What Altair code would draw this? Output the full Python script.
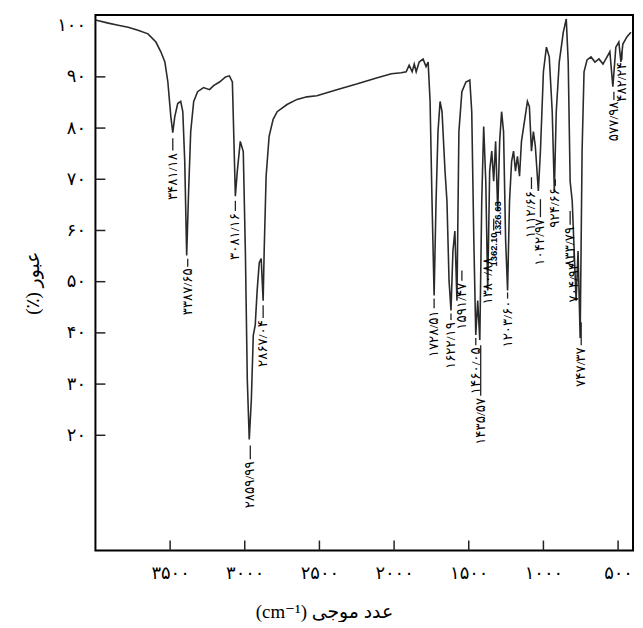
import altair as alt
import pandas as pd

# ---- spectrum (wavenumber cm-1, transmittance %) ----
wavenumber = [4000, 3914, 3848, 3781, 3715, 3648, 3595, 3562, 3535, 3515, 3495, 3482, 3469, 3449, 3429,
              3415, 3402, 3389, 3376, 3362, 3342, 3316, 3276, 3236, 3209, 3169, 3129, 3103, 3083, 3076,
              3063, 3050, 3030, 3010, 2996, 2983, 2970, 2956, 2943, 2930, 2917, 2903, 2890, 2877, 2870,
              2857, 2837, 2810, 2783, 2717, 2650, 2584, 2517, 2384, 2251, 2118, 2018, 1952, 1919, 1899,
              1879, 1865, 1852, 1832, 1806, 1786, 1772, 1759, 1746, 1732, 1719, 1706, 1692, 1679, 1659,
              1646, 1632, 1619, 1606, 1593, 1579, 1566, 1546, 1519, 1493, 1480, 1466, 1453, 1440, 1426,
              1413, 1400, 1386, 1373, 1360, 1346, 1333, 1320, 1306, 1293, 1280, 1267, 1253, 1240, 1227,
              1213, 1200, 1187, 1174, 1160, 1147, 1127, 1107, 1094, 1080, 1067, 1054, 1034, 1020, 1000,
              980, 961, 941, 927, 914, 894, 867, 847, 834, 821, 807, 794, 781, 768, 754,
              741, 728, 708, 681, 655, 628, 601, 574, 555, 535, 515, 495, 481, 468, 441, 414]
transmittance = [101.1, 100.5, 100.1, 99.7, 99.1, 98.4, 96.8, 94.9, 92.9, 89.0, 82.2, 79.1, 82.2, 84.8, 85.2,
                 83.2, 73.5, 55.1, 67.7, 79.3, 85.2, 87.1, 87.9, 87.5, 88.3, 89.0, 90.0, 90.2, 89.0, 81.3,
                 66.7, 71.6, 77.4, 75.4, 56.0, 30.8, 19.2, 26.9, 39.5, 41.5, 48.3, 53.7, 54.5, 46.3, 56.0,
                 70.6, 78.4, 81.7, 83.2, 84.6, 85.6, 86.1, 86.3, 87.5, 88.6, 89.8, 90.6, 90.8, 91.0, 92.3,
                 91.0, 92.5, 91.0, 92.9, 93.5, 92.0, 92.9, 85.2, 65.7, 47.3, 65.7, 79.3, 85.2, 83.2, 71.6,
                 65.7, 50.2, 44.4, 56.0, 59.9, 46.3, 79.3, 87.1, 89.0, 89.4, 83.2, 58.0, 39.6, 46.3, 38.6,
                 65.7, 80.3, 69.6, 48.3, 71.6, 75.5, 69.6, 77.4, 63.8, 77.4, 83.2, 79.3, 58.0, 48.3, 65.7,
                 73.5, 75.5, 71.6, 74.5, 70.6, 77.4, 81.3, 85.2, 84.2, 75.5, 79.3, 76.4, 67.7, 75.5, 91.0,
                 95.8, 93.9, 83.2, 67.7, 83.2, 92.9, 98.7, 101.3, 92.9, 69.6, 65.7, 56.0, 46.3, 56.0, 39.0,
                 75.5, 91.0, 93.3, 93.9, 92.9, 93.5, 92.5, 93.9, 94.9, 88.1, 95.8, 96.8, 92.9, 96.4, 97.8, 98.7]

# ---- peak annotations ----
peak_text = ["۳۴۸۱/۱۸", "۳۳۸۷/۶۵", "۳۰۸۱/۱۶", "۲۸۵۹/۹۹", "۲۸۶۷/۰۴", "۱۷۲۸/۵۱", "۱۶۲۲/۱۹",
             "۱۵۹۱/۴۷", "۱۴۶۰/۰۵", "۱۴۳۵/۵۷", "۱۳۸۰/۸۸", "1362.10", "1326.63", "۱۲۰۳/۶۰",
             "۱۱۱۲/۶۶", "۱۰۴۲/۹۷", "۹۲۴/۶۶", "۸۳۳/۷۹", "۷۰۴/۹۴", "۷۴۷/۳۷", "۵۷۷/۹۸", "۴۸۲/۲۴"]
peak_wn = [3482, 3382, 3063, 2963, 2877, 1732, 1619, 1546, 1453, 1420, 1373, 1333, 1306, 1240,
           1080, 1020, 920, 821, 794, 747, 528, 475]
peak_text_top = [75.1, 52.6, 63.4, 14.9, 42.5, 44.4, 42.1, 49.8, 37.2, 27.3, 54.7, 59.6, 65.7, 46.3,
                 67.7, 62.3, 68.3, 60.7, 53.7, 37.2, 85.2, 92.9]
peak_dash_top = [78.0, 54.5, 65.8, 18.0, 45.4, 46.7, 43.8, 52.2, 39.0, 37.6, 57.4, 62.3, 68.1, 47.9,
                 70.4, 66.1, 70.0, 63.8, 56.4, 42.1, 87.1, 94.9]
peak_dash_bottom = [75.6, 52.9, 63.8, 15.3, 42.9, 44.8, 42.5, 50.2, 37.6, 27.7, 55.1, 60.0, 66.1, 46.7,
                    68.1, 62.6, 68.7, 61.1, 54.1, 37.6, 85.5, 93.3]
peak_bold = [False] * 11 + [True, True] + [False] * 9

# ---- axes ----
y_tick_values = [100, 90, 80, 70, 60, 50, 40, 30, 20]
y_tick_labels = ["۱۰۰", "۹۰", "۸۰", "۷۰", "۶۰", "۵۰", "۴۰", "۳۰", "۲۰"]
y_inner_ticks = [90, 80, 70, 60, 50, 40, 30, 20]
x_tick_values = [3500, 3000, 2500, 2000, 1500, 1000, 500]
x_tick_labels = ["۳۵۰۰", "۳۰۰۰", "۲۵۰۰", "۲۰۰۰", "۱۵۰۰", "۱۰۰۰", "۵۰۰"]


def label_expr(values, labels):
    expr = "''"
    for v, l in reversed(list(zip(values, labels))):
        expr = f"datum.value == {v} ? '{l}' : ({expr})"
    return expr


spec_df = pd.DataFrame({"wn": wavenumber, "t": transmittance})
peaks_df = pd.DataFrame({"wn": peak_wn, "label": peak_text, "top": peak_text_top,
                         "d1": peak_dash_top, "d2": peak_dash_bottom, "bold": peak_bold})
ytick_df = pd.DataFrame({"v": y_inner_ticks})
xtick_df = pd.DataFrame({"w": x_tick_values})

W, H = 541, 539
xscale = alt.Scale(domain=[400, 4000], reverse=True, nice=False, zero=False)
yscale = alt.Scale(domain=[-2.5, 102.1], nice=False, zero=False)

FONT = "Liberation Serif, DejaVu Sans"

x_axis = alt.Axis(values=x_tick_values, labelExpr=label_expr(x_tick_values, x_tick_labels),
                  tickSize=0, domain=False, grid=False, labelFontSize=18, labelPadding=14,
                  labelFont=FONT, labelColor="black", title="(cm⁻¹) عدد موجی",
                  titleFont=FONT, titleFontSize=19, titleFontWeight="normal",
                  titleColor="black", titlePadding=20, titleX=230, titleAlign="center")
y_axis = alt.Axis(values=y_tick_values, labelExpr=label_expr(y_tick_values, y_tick_labels),
                  tickSize=0, domain=False, grid=False, labelFontSize=18, labelPadding=10,
                  labelFont=FONT, labelColor="black", title="(٪) عبور",
                  titleFont=FONT, titleFontSize=19, titleFontWeight="normal",
                  titleColor="black", titlePadding=14)

X = lambda f: alt.X(f, scale=xscale, axis=x_axis)
Y = lambda f: alt.Y(f, scale=yscale, axis=y_axis)

line = alt.Chart(spec_df).mark_line(color="#2a2a2a", strokeWidth=1.6, clip=True).encode(
    x=X("wn:Q"), y=Y("t:Q"),
)

yticks = alt.Chart(ytick_df).mark_rule(color="#222", strokeWidth=1.5).encode(
    y=Y("v:Q"), x=alt.value(0), x2=alt.value(10),
)
xticks = alt.Chart(xtick_df).mark_rule(color="#222", strokeWidth=1.5).encode(
    x=X("w:Q"), y=alt.value(H), y2=alt.value(H - 10),
)

dashes = alt.Chart(peaks_df).mark_rule(color="#222", strokeWidth=1.3).encode(
    x=X("wn:Q"), y=Y("d1:Q"), y2="d2:Q",
)

texts = alt.Chart(peaks_df).transform_filter("!datum.bold").mark_text(
    angle=270, align="right", baseline="middle", fontSize=13.5, font=FONT, color="black"
).encode(
    x=X("wn:Q"), y=Y("top:Q"), text="label:N",
)
texts_bold = alt.Chart(peaks_df).transform_filter("datum.bold").mark_text(
    angle=270, align="right", baseline="middle", fontSize=9.5, font="Liberation Sans",
    fontWeight="bold", color="black"
).encode(
    x=X("wn:Q"), y=Y("top:Q"), text="label:N",
)

chart = alt.layer(line, yticks, xticks, dashes, texts, texts_bold).properties(
    width=W, height=H,
    autosize=alt.AutoSizeParams(type="none"),
    padding={"left": 88, "top": 5, "right": 2, "bottom": 70},
).configure(background="white").configure_view(stroke="black", strokeWidth=2)

chart.save("out.html", embed_options={"renderer": "svg", "actions": False})
